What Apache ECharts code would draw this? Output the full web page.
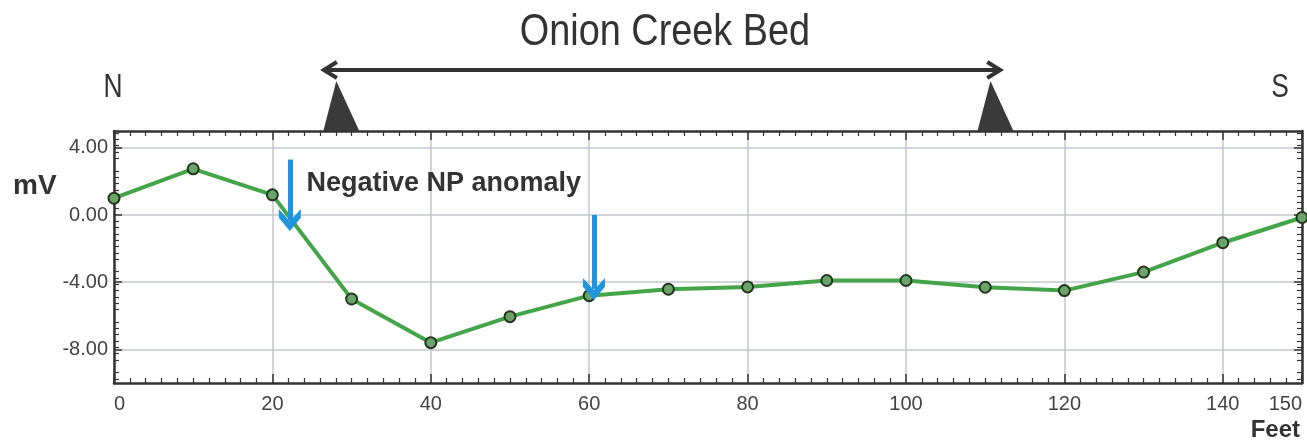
<!DOCTYPE html>
<html>
<head>
<meta charset="utf-8">
<script src="https://cdn.jsdelivr.net/npm/echarts@6/dist/echarts.min.js"></script>
<style>
  html, body { margin: 0; padding: 0; background: #fff; }
  #chart { width: 1307px; height: 443px; }
</style>
</head>
<body>
<div id="chart"></div>
<script>
// distance along the profile (feet) and self-potential reading (mV)
const feet = [0, 10, 20, 30, 40, 50, 60, 70, 80, 90, 100, 110, 120, 130, 140, 150];
const mv = [1.0, 2.75, 1.2, -5.0, -7.6, -6.05, -4.8, -4.42, -4.28, -3.9, -3.9, -4.3, -4.5, -3.4, -1.65, -0.15];
const yTickValues = [-8, -4, 0, 4];

// creek bed edges and arrow ends (feet)
const bedEdges = [28.7, 111.3];
const bedArrow = [26.5, 111.9];
// blue anomaly arrows: [feet, from mV, to mV]
const anomalyArrows = [[22.2, 3.3, -0.3], [60.6, 0.0, -4.4]];
const anomalyLabelAt = [24.3, 1.85];

const plain = "'Liberation Sans', Arial, sans-serif";
const frame = '#333';

const chart = echarts.init(document.getElementById('chart'));

const chevron = 'path://M5,0 L10,6 L10,10 L5,4.5 L0,10 L0,6 Z';

// shared frame pieces
const tick = (len, custom) => ({
    show: true, inside: true, length: len,
    customValues: custom,
    lineStyle: { color: frame, width: 1.5 },
});
const minor = (n) => ({ show: true, splitNumber: n, length: 5, lineStyle: { color: frame, width: 1.2 } });
const line = { show: true, onZero: false, lineStyle: { color: frame, width: 2.5 } };

const option = {
    animation: false,
    grid: { left: 114, right: 5, top: 131, bottom: 60 },
    xAxis: [
        {
            type: 'value',
            min: 0,
            max: 150,
            interval: 20,
            axisLine: line,
            axisTick: tick(9),
            minorTick: minor(10),
            splitLine: { show: true, lineStyle: { color: '#c3c7cc', width: 1.5 } },
            axisLabel: {
                color: '#444',
                fontFamily: plain,
                fontSize: 20,
                margin: 11,
                alignMinLabel: 'left',
                alignMaxLabel: 'right',
            },
        },
        {
            type: 'value',
            position: 'top',
            min: 0,
            max: 150,
            interval: 20,
            axisLine: line,
            axisTick: tick(9),
            minorTick: minor(10),
            splitLine: { show: false },
            axisLabel: { show: false },
        },
    ],
    yAxis: [
        {
            type: 'value',
            min: -10,
            max: 5,
            axisLine: line,
            axisTick: tick(8, yTickValues),
            minorTick: minor(8),
            splitLine: { show: true, lineStyle: { color: '#c3c7cc', width: 1.5 } },
            axisLabel: {
                customValues: yTickValues,
                color: '#444',
                fontFamily: plain,
                fontSize: 20,
                margin: 6,
                formatter: (v) => v.toFixed(2),
            },
        },
        {
            type: 'value',
            position: 'right',
            min: -10,
            max: 5,
            axisLine: line,
            axisTick: tick(8, yTickValues),
            minorTick: minor(8),
            splitLine: { show: false },
            axisLabel: { show: false },
        },
    ],
    series: [
        {
            type: 'line',
            data: feet.map((f, i) => [f, mv[i]]),
            clip: false,
            symbol: 'circle',
            symbolSize: 11,
            lineStyle: { color: '#43a548', width: 4 },
            itemStyle: { color: '#6aa468', borderColor: '#24361f', borderWidth: 2 },
            markLine: {
                silent: true,
                symbol: ['none', chevron],
                symbolSize: [22, 22],
                label: { show: false },
                lineStyle: { color: '#1e95dc', width: 5, type: 'solid' },
                data: anomalyArrows.map(([f, a, b]) => [
                    { coord: [f, a] },
                    { coord: [f, b] },
                ]),
            },
            z: 3,
        },
    ],
};

chart.setOption(option);

function overlay() {
    const px = (x, y) => chart.convertToPixel({ gridIndex: 0 }, [x, y]);
    const top = px(0, 5)[1];
    const arrowY = 70;
    const l = px(bedArrow[0], 0)[0];
    const r = px(bedArrow[1], 0)[0];
    const head = { stroke: frame, lineWidth: 4, fill: null, lineJoin: 'miter' };
    const label = px(anomalyLabelAt[0], anomalyLabelAt[1]);

    const elements = [
        {
            type: 'text', x: 665, y: 33, scaleX: 0.86,
            style: {
                text: 'Onion Creek Bed', font: '44px ' + plain, fill: '#333',
                textAlign: 'center', textVerticalAlign: 'middle',
            },
        },
        {
            type: 'text', x: 113, y: 88, scaleX: 0.8,
            style: { text: 'N', font: '33px ' + plain, fill: '#333', textAlign: 'center', textVerticalAlign: 'middle' },
        },
        {
            type: 'text', x: 1280, y: 88, scaleX: 0.8,
            style: { text: 'S', font: '33px ' + plain, fill: '#333', textAlign: 'center', textVerticalAlign: 'middle' },
        },
        {
            type: 'text', x: 13, y: 172,
            style: { text: 'mV', font: 'bold 28px ' + plain, fill: '#333' },
        },
        {
            type: 'text', right: 7, top: 418,
            style: { text: 'Feet', font: 'bold 24px ' + plain, fill: '#333' },
        },
        {
            type: 'text', x: label[0], y: label[1],
            style: {
                text: 'Negative NP anomaly', font: 'bold 27px ' + plain, fill: '#333',
                textVerticalAlign: 'middle',
            },
            z: 10,
        },
        {
            type: 'line',
            shape: { x1: l + 2, y1: arrowY, x2: r - 2, y2: arrowY },
            style: { stroke: frame, lineWidth: 4 },
        },
        {
            type: 'polyline',
            shape: { points: [[l + 13, arrowY - 8], [l, arrowY], [l + 13, arrowY + 8]] },
            style: head,
        },
        {
            type: 'polyline',
            shape: { points: [[r - 13, arrowY - 8], [r, arrowY], [r - 13, arrowY + 8]] },
            style: head,
        },
    ];

    bedEdges.forEach((f) => {
        const cx = px(f, 0)[0];
        elements.push({
            type: 'polygon',
            shape: { points: [[cx - 5, 81], [cx + 18, top], [cx - 18, top]] },
            style: { fill: '#3a3a3a' },
            z: 5,
        });
    });

    chart.setOption({ graphic: { elements } });
}

overlay();
window.addEventListener('resize', () => { chart.resize(); overlay(); });
</script>
</body>
</html>
